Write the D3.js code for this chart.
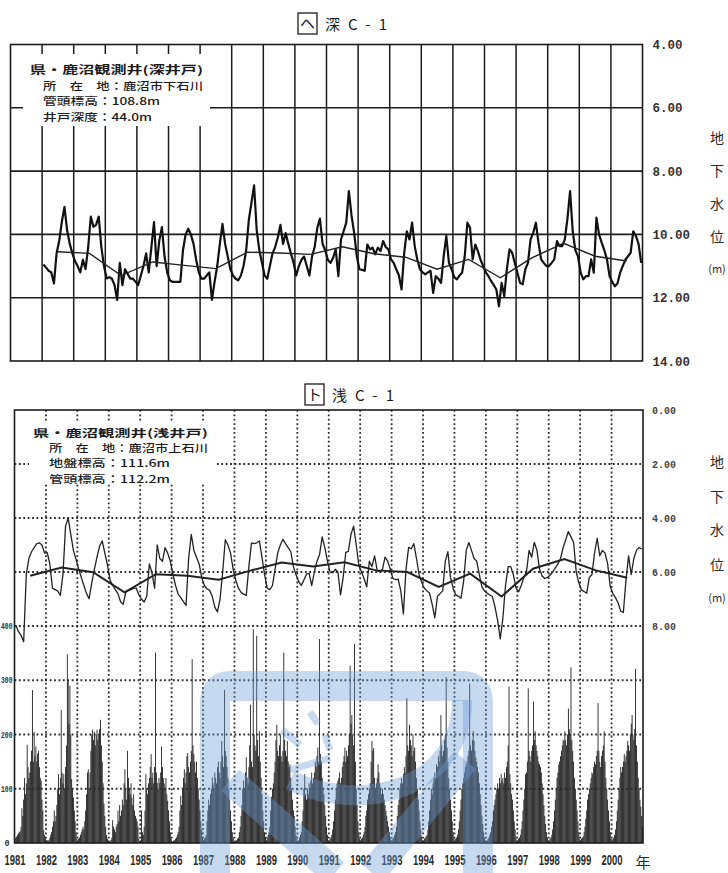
<!DOCTYPE html>
<html><head><meta charset="utf-8">
<script src="https://cdn.jsdelivr.net/npm/d3@7"></script>
<style>body{margin:0;background:#fff}svg{display:block}</style>
</head><body>
<svg id="c" width="728" height="873"></svg>
<script>
// ---------------- DATA ----------------
const yearLabels = ["1981","1982","1983","1984","1985","1986","1987","1988","1989","1990","1991","1992","1993","1994","1995","1996","1997","1998","1999","2000"];
const deepTicks = [4, 6, 8, 10, 12, 14];
const shallowTicks = [0, 2, 4, 6, 8];
const rainTicks = [0, 100, 200, 300, 400];
const sideLabel = ["地", "下", "水", "位", "(m)"];
const deepTitle = ["ヘ", "深C-1"];
const shallowTitle = ["ト", "浅C-1"];
const deepInfo = ["県・鹿沼観測井(深井戸)", "所　在　地：鹿沼市下石川", "管頭標高：108.8m", "井戸深度：44.0m"];
const shallowInfo = ["県・鹿沼観測井(浅井戸)", "所　在　地：鹿沼市上石川", "地盤標高：111.6m", "管頭標高：112.2m"];

// deep well, monthly, Jan 1982 .. Dec 2000 (m below surface)
const deepMonthly = [
 10.95,11.05,11.15,11.2,11.55,10.6,10.2,9.6,9.13,9.87,10.3,10.6,
 10.85,11.0,11.2,10.8,11.1,10.4,9.44,9.76,9.7,9.44,10.4,11.0,
 11.39,11.35,11.4,11.6,12.07,10.9,11.6,11.1,11.25,11.4,11.4,11.5,
 11.6,11.3,11.0,10.6,11.2,10.4,9.61,11.0,10.2,9.77,10.7,11.2,
 11.45,11.5,11.5,11.5,11.5,10.5,10.0,9.82,10.0,10.3,10.8,11.2,
 11.4,11.4,11.3,11.2,12.07,11.5,11.0,10.3,9.67,10.3,10.7,11.1,
 11.3,11.4,11.45,11.3,11.0,10.5,9.55,9.0,8.45,9.87,10.5,10.9,
 11.3,11.4,11.0,10.6,10.4,10.1,9.7,10.3,9.96,10.3,10.6,10.9,
 11.3,11.0,10.8,10.7,11.0,11.3,10.7,10.4,9.8,9.5,10.3,10.5,
 10.8,10.9,10.74,10.47,11.32,10.16,9.9,9.63,8.63,9.4,9.95,10.69,
 11.1,11.12,11.15,10.32,10.47,10.42,10.63,10.42,10.53,10.21,10.4,10.47,
 10.79,10.9,11.1,11.3,11.74,10.6,9.9,10.16,9.63,10.37,10.8,11.1,
 11.2,11.26,11.2,11.15,11.85,11.32,11.4,11.53,10.69,10.05,10.9,11.1,
 11.35,11.42,11.3,11.21,10.69,9.63,9.79,10.79,10.32,10.53,10.8,11.0,
 11.2,11.32,11.47,11.6,11.74,12.27,11.53,11.95,11.1,10.47,10.58,10.9,
 11.21,11.53,11.58,11.1,10.9,10.16,9.95,9.63,10.26,10.79,10.9,11.0,
 11.0,10.9,10.79,10.21,10.37,10.37,10.16,9.5,8.63,9.9,10.5,10.69,
 11.2,11.42,11.32,11.32,10.79,11.21,9.47,10.0,10.26,10.5,10.79,11.32,
 11.5,11.64,11.55,11.21,11.0,10.8,10.69,10.58,9.9,10.05,10.3,10.9
];
// deep well, annual mean, 1982 .. 2000
const deepAnnual = [10.55,10.6,11.3,10.87,10.98,11.08,10.56,10.59,10.63,10.39,10.61,10.72,11.1,10.79,11.37,10.74,10.28,10.69,10.84];

// shallow well, monthly, Jan 1981 .. Dec 2000
const shallowMonthly = [
 7.97,8.2,8.35,8.58,6.1,5.5,5.25,5.1,4.95,4.92,5.0,5.3,
 5.28,5.71,6.6,6.65,6.7,6.87,6.1,4.3,4.0,4.61,5.2,5.53,
 5.89,6.2,6.5,6.8,6.99,6.4,5.9,5.45,5.04,4.85,5.3,5.75,
 6.3,6.5,6.65,6.8,7.1,7.2,6.75,6.69,6.65,6.6,6.6,6.85,
 7.0,7.11,6.9,5.7,6.03,6.6,5.0,5.5,5.6,5.1,5.3,5.6,
 6.1,6.5,6.82,6.95,7.1,7.24,5.5,4.61,5.2,5.45,5.7,6.2,
 6.5,6.63,6.67,6.9,7.3,7.48,7.0,6.0,4.8,5.0,5.3,5.9,
 6.3,6.6,6.75,6.82,6.87,5.8,4.92,4.95,4.92,4.85,5.45,6.1,
 6.6,6.65,6.5,5.9,5.3,5.0,4.79,4.95,5.1,5.25,5.8,6.1,
 6.35,6.5,6.3,6.08,6.05,6.5,6.0,5.6,5.35,4.7,5.1,5.6,
 6.0,6.03,5.9,6.0,6.85,6.2,5.27,5.24,4.6,4.3,5.0,5.76,
 6.0,6.25,6.55,5.6,5.8,5.4,5.94,6.0,5.9,5.45,5.6,5.9,
 6.24,6.28,6.26,6.7,7.55,5.9,5.09,5.14,4.95,5.5,6.1,6.38,
 6.6,6.7,6.78,7.2,7.7,6.9,6.8,6.7,5.6,5.25,6.2,6.6,
 6.85,6.9,6.97,6.35,5.2,4.91,5.2,5.5,5.6,6.1,6.55,6.7,
 6.79,6.85,6.91,7.3,7.8,8.48,7.7,6.5,5.8,5.8,6.1,6.6,
 6.73,6.5,6.2,6.0,5.2,5.45,4.9,5.2,5.9,6.15,6.24,6.2,
 6.12,6.0,5.85,5.7,5.5,5.1,4.8,4.5,4.7,4.9,6.0,6.4,
 6.67,6.72,6.79,6.2,6.1,5.3,4.75,5.4,5.2,5.3,5.7,6.55,
 6.8,6.95,7.15,7.45,7.5,6.3,5.4,6.1,5.5,5.2,5.09,5.15
];
// shallow well, annual mean, 1981 .. 2000
const shallowAnnual = [6.14,5.83,6.01,6.75,6.08,6.14,6.29,5.95,5.65,5.8,5.64,5.94,6.0,6.55,6.06,6.91,5.88,5.52,5.94,6.21];

// rainfall, 10-day totals (36 per year), 1981 .. 2000
const rain = [
 8,10,12,15,18,20,22,30,64,50,80,120,90,110,181,140,120,130,150,170,282,150,205,160,178,150,165,170,140,120,115,80,60,24,15,10,
 5,5,5,5,10,15,20,30,40,60,40,50,70,100,127,90,120,245,130,110,127,100,140,180,348,300,220,290,200,118,100,84,60,40,20,8,
 5,8,10,15,20,25,30,25,40,60,90,130,136,100,130,170,200,209,190,205,180,200,209,190,200,210,227,180,150,110,73,50,30,15,8,5,
 3,5,5,10,42,30,25,20,30,35,60,40,70,50,60,80,70,110,136,100,80,170,120,100,90,110,84,70,90,60,50,45,40,30,8,3,
 5,60,20,15,30,60,127,100,90,110,120,140,164,120,130,110,140,351,130,111,100,120,111,130,178,140,120,110,100,120,90,78,60,40,20,8,
 3,3,5,5,8,10,15,20,30,60,87,70,100,120,136,110,130,160,166,140,130,150,170,339,180,164,150,130,150,120,100,80,60,40,25,10,
 5,8,10,15,40,60,80,70,90,100,121,110,100,130,120,110,140,150,130,120,150,188,160,140,282,170,160,140,120,100,80,60,40,20,10,5,
 3,5,5,8,10,20,30,50,70,100,115,100,130,158,120,110,140,180,255,150,140,394,200,180,170,382,190,160,206,150,120,90,60,40,20,10,
 5,10,15,20,30,60,85,100,110,130,150,190,218,170,160,180,200,160,150,170,351,190,170,160,188,150,140,145,120,100,80,60,50,30,15,8,
 3,5,10,15,20,40,60,100,127,90,80,100,90,110,100,115,130,110,120,130,150,140,160,176,150,376,164,150,120,100,90,70,50,30,15,5,
 5,8,10,15,25,40,60,80,100,110,115,120,130,110,120,140,150,160,176,150,170,160,180,200,327,220,236,200,180,367,150,100,70,40,20,8,
 5,8,10,15,20,30,50,60,80,90,100,110,150,188,170,175,120,100,110,120,145,130,110,100,90,100,90,80,70,60,50,40,30,20,10,5,
 5,8,10,15,20,30,50,70,80,100,110,120,110,127,140,130,160,267,180,170,218,190,180,160,200,170,176,150,120,100,80,60,40,25,12,5,
 5,8,10,12,15,25,40,60,80,100,90,110,120,130,120,145,140,160,150,170,236,180,160,170,190,200,306,176,150,120,100,80,60,40,20,8,
 5,8,10,15,25,40,60,80,100,110,120,130,140,145,150,160,170,294,180,170,190,206,188,170,158,150,140,130,110,90,70,50,35,20,10,5,
 3,5,8,10,15,20,30,40,60,70,80,90,100,110,100,120,110,127,115,120,110,130,120,140,150,180,288,127,110,90,80,60,40,25,12,5,
 5,8,10,15,25,40,60,80,100,127,130,150,285,170,160,150,170,180,261,190,206,180,170,160,150,145,140,130,110,90,70,50,35,20,10,5,
 5,8,10,15,25,40,60,80,100,120,130,145,150,160,170,180,190,188,206,190,180,200,248,210,200,324,190,170,150,120,100,80,60,40,20,8,
 5,8,10,12,20,30,45,60,80,90,100,110,120,130,127,140,150,145,160,170,258,170,150,140,160,170,180,206,150,120,100,80,60,40,20,8,
 5,8,10,15,25,40,60,80,100,120,140,130,140,150,164,150,160,170,188,180,170,200,220,236,200,190,210,321,180,150,120,100,80,67,50,30
];

// ---------------- DRAW ----------------
const svg = d3.select("#c");
const INK = "#1c1c1c";
const JP = "'Noto Sans CJK JP','Noto Sans CJK SC',sans-serif";
const MONO = "'Liberation Mono','DejaVu Sans Mono',monospace";
const years = yearLabels.map(Number);

const xT = d3.scaleLinear().domain([1981, 2001]).range([10.5, 642.5]);
const yT = d3.scaleLinear().domain([4, 14]).range([44.5, 361]);
const xB = d3.scaleLinear().domain([1981, 2001]).range([14.5, 643]);
const yB = d3.scaleLinear().domain([0, 8]).range([410, 626]);
const yR = d3.scaleLinear().domain([0, 400]).range([843, 626]);

// ---- titles ----
function drawTitle(t, cx, base) {
  const g = svg.append("g");
  g.append("rect").attr("x", cx - 47).attr("y", base - 16).attr("width", 19).attr("height", 21)
    .attr("fill", "none").attr("stroke", INK).attr("stroke-width", 1.3);
  g.append("text").attr("x", cx - 37.5).attr("y", base).attr("text-anchor", "middle")
    .attr("font-family", JP).attr("font-size", 15).attr("fill", INK).text(t[0]);
  g.append("text").attr("x", cx - 20).attr("y", base + 1).attr("textLength", 62).attr("lengthAdjust", "spacing")
    .attr("font-family", JP).attr("font-size", 15).attr("fill", INK).text(t[1]);
}
drawTitle(deepTitle, 345, 29);
drawTitle(shallowTitle, 352, 400);

// ---- top chart (deep well) ----
const gTop = svg.append("g");
gTop.selectAll("line.v").data(years.slice(1)).join("line")
  .attr("x1", d => xT(d)).attr("x2", d => xT(d)).attr("y1", yT(4)).attr("y2", yT(14))
  .attr("stroke", INK).attr("stroke-width", 1.5);
gTop.selectAll("line.h").data(deepTicks.slice(1, -1)).join("line")
  .attr("x1", xT(1981)).attr("x2", xT(2001)).attr("y1", d => yT(d)).attr("y2", d => yT(d))
  .attr("stroke", INK).attr("stroke-width", 1.6);
gTop.append("rect").attr("x", xT(1981)).attr("y", yT(4)).attr("width", xT(2001) - xT(1981)).attr("height", yT(14) - yT(4))
  .attr("fill", "none").attr("stroke", INK).attr("stroke-width", 1.6);
gTop.append("rect").attr("x", 23).attr("y", 54).attr("width", 187).attr("height", 72).attr("fill", "#fff");
const infoTopW = [173, 160, 117, 109];
deepInfo.forEach((s, i) => {
  gTop.append("text").attr("x", i ? 43 : 30).attr("y", 74 + i * 15.6)
    .attr("textLength", infoTopW[i]).attr("lengthAdjust", "spacingAndGlyphs")
    .attr("font-family", JP).attr("font-size", i ? 10.6 : 10.8).attr("font-weight", i ? 500 : 700).attr("fill", INK).text(s);
});
gTop.append("path").datum(deepMonthly)
  .attr("d", d3.line().x((d, i) => xT(1982 + (i + 0.5) / 12)).y(d => yT(d)))
  .attr("fill", "none").attr("stroke", "#111").attr("stroke-width", 2.2).attr("stroke-linejoin", "round");
gTop.append("path").datum(deepAnnual)
  .attr("d", d3.line().x((d, i) => xT(1982 + i + 0.5)).y(d => yT(d)))
  .attr("fill", "none").attr("stroke", "#222").attr("stroke-width", 1.4);
const axT = svg.append("g").attr("transform", `translate(${xT(2001) + 8},0)`)
  .call(d3.axisRight(yT).tickValues(deepTicks).tickSize(0).tickPadding(2).tickFormat(d3.format(".2f")));
axT.select(".domain").remove();
axT.selectAll("text").attr("font-family", MONO).attr("font-size", 12.5).attr("font-weight", "bold").attr("fill", "#333");

function side(ys, sizeM) {
  sideLabel.forEach((s, i) => {
    svg.append("text").attr("x", 717).attr("y", ys[i]).attr("text-anchor", "middle").attr("dominant-baseline", "central")
      .attr("font-family", JP).attr("font-size", i === 4 ? sizeM : 14).attr("fill", "#2a2a2a").text(s);
  });
}
side([137, 170, 203, 236, 268], 11);
side([461, 496, 529, 564, 597], 11);

// ---- bottom chart (shallow well + rain) ----
const gBot = svg.append("g");
const slot = (xB(1982) - xB(1981)) / 36;
gBot.selectAll("rect.bar").data(rain).join("rect").attr("class", "bar")
  .attr("x", (d, k) => xB(1981 + Math.floor(k / 36) + ((k % 36) + 0.5) / 36) - slot * 0.47)
  .attr("width", slot * 0.94)
  .attr("y", d => yR(d)).attr("height", d => yR(0) - yR(d))
  .attr("fill", "#0d0d0d");
const dot = { stroke: "#2a2a2a", w: 1.8, dash: "1.8,2.6" };
gBot.selectAll("line.bv").data(years.slice(1)).join("line")
  .attr("x1", d => xB(d)).attr("x2", d => xB(d)).attr("y1", yB(0)).attr("y2", yR(0))
  .attr("stroke", dot.stroke).attr("stroke-width", dot.w).attr("stroke-dasharray", dot.dash);
gBot.selectAll("line.bh").data(shallowTicks.slice(1)).join("line")
  .attr("x1", xB(1981)).attr("x2", xB(2001)).attr("y1", d => yB(d)).attr("y2", d => yB(d))
  .attr("stroke", dot.stroke).attr("stroke-width", dot.w).attr("stroke-dasharray", dot.dash);
gBot.selectAll("line.rh").data(rainTicks.slice(1, -1)).join("line")
  .attr("x1", xB(1981)).attr("x2", xB(2001)).attr("y1", d => yR(d)).attr("y2", d => yR(d))
  .attr("stroke", dot.stroke).attr("stroke-width", dot.w).attr("stroke-dasharray", dot.dash);
gBot.append("rect").attr("x", 29).attr("y", 421).attr("width", 186).attr("height", 63).attr("fill", "#fff");
const infoBotW = [175, 159, 121, 121];
shallowInfo.forEach((s, i) => {
  gBot.append("text").attr("x", i ? 49 : 33).attr("y", 437 + i * 15.2)
    .attr("textLength", infoBotW[i]).attr("lengthAdjust", "spacingAndGlyphs")
    .attr("font-family", JP).attr("font-size", i ? 10.4 : 10.6).attr("font-weight", i ? 500 : 700).attr("fill", INK).text(s);
});
gBot.append("rect").attr("x", xB(1981)).attr("y", yB(0)).attr("width", xB(2001) - xB(1981)).attr("height", yR(0) - yB(0))
  .attr("fill", "none").attr("stroke", INK).attr("stroke-width", 1.6);
gBot.append("path").datum(shallowMonthly)
  .attr("d", d3.line().x((d, i) => xB(1981 + (i + 0.5) / 12)).y(d => yB(d)))
  .attr("fill", "none").attr("stroke", "#222").attr("stroke-width", 1.3).attr("stroke-linejoin", "round");
gBot.append("path").datum(shallowAnnual)
  .attr("d", d3.line().x((d, i) => xB(1981 + i + 0.5)).y(d => yB(d)))
  .attr("fill", "none").attr("stroke", "#222").attr("stroke-width", 2);
const axB = svg.append("g").attr("transform", `translate(${xB(2001) + 8},0)`)
  .call(d3.axisRight(yB).tickValues(shallowTicks).tickSize(0).tickPadding(1).tickFormat(d3.format(".2f")));
axB.select(".domain").remove();
axB.selectAll("text").attr("font-family", MONO).attr("font-size", 10).attr("font-weight", "bold").attr("fill", "#444");
// left rain axis, squeezed into the narrow margin
const axR = svg.append("g").attr("transform", "translate(12.5,0)")
  .call(d3.axisLeft(yR).tickValues(rainTicks).tickSize(0).tickPadding(0));
axR.select(".domain").remove();
axR.selectAll("text").attr("font-family", MONO).attr("font-size", 8.5).attr("font-weight", "bold").attr("fill", "#333")
  .attr("dx", d => d === 0 ? -3 : 0)
  .attr("textLength", d => d === 0 ? null : 11.5).attr("lengthAdjust", "spacingAndGlyphs");
const axX = svg.append("g").attr("transform", "translate(0,855)")
  .call(d3.axisBottom(xB).tickValues(years).tickSize(0).tickPadding(0).tickFormat((d, i) => yearLabels[i]));
axX.select(".domain").remove();
axX.selectAll("text").attr("font-family", "'Liberation Sans',sans-serif").attr("font-size", 14.5).attr("font-weight", "bold")
  .attr("fill", "#2a2a2a").attr("textLength", 21).attr("lengthAdjust", "spacingAndGlyphs");
svg.append("text").attr("x", xB(2001)).attr("y", 868).attr("text-anchor", "middle")
  .attr("font-family", JP).attr("font-size", 15).attr("fill", "#2a2a2a").text("年");

// ---- scan watermark (decorative) ----
const wm = svg.append("g").attr("fill", "none").attr("stroke", "#6d9bd6").attr("stroke-opacity", 0.38);
wm.append("path").attr("d", "M215 873 L215 702 Q215 686 231 686 L462 686 Q478 686 478 702 L478 873").attr("stroke-width", 30);
wm.append("path").attr("d", "M462 700 C462 790 360 815 290 780").attr("stroke-width", 20);
wm.append("path").attr("d", "M230 780 L335 873").attr("stroke-width", 28);
wm.append("path").attr("d", "M465 760 L372 873").attr("stroke-width", 28);
wm.append("path").attr("d", "M282 730 L300 745 M310 712 L318 724 M325 735 L330 750 M290 770 L330 758").attr("stroke-width", 7);
</script>
</body></html>
